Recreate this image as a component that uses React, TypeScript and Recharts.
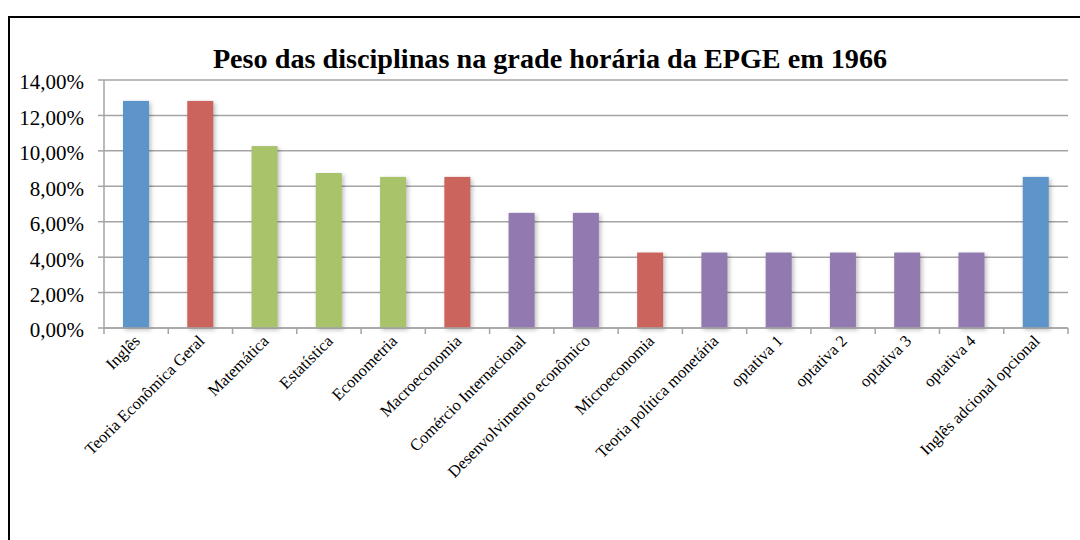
import { BarChart, Bar, XAxis, YAxis, CartesianGrid, Cell } from "recharts";

const disciplinas = [
  "Inglês",
  "Teoria Econômica Geral",
  "Matemática",
  "Estatística",
  "Econometria",
  "Macroeconomia",
  "Comércio Internacional",
  "Desenvolvimento econômico",
  "Microeconomia",
  "Teoria política monetária",
  "optativa 1",
  "optativa 2",
  "optativa 3",
  "optativa 4",
  "Inglês adcional opcional",
];
const pesos = [
  0.1282, 0.1282, 0.1027, 0.0875, 0.0853, 0.0853, 0.065, 0.065, 0.0426,
  0.0426, 0.0426, 0.0426, 0.0426, 0.0426, 0.0853,
];
const cores = [
  "#5d94c9", "#cc645e", "#a9c36a", "#a9c36a", "#a9c36a", "#cc645e", "#9279b0",
  "#9279b0", "#cc645e", "#9279b0", "#9279b0", "#9279b0", "#9279b0", "#9279b0",
  "#5d94c9",
];
const yTicks = [0, 0.02, 0.04, 0.06, 0.08, 0.1, 0.12, 0.14];

const data = disciplinas.map((nome, i) => ({ nome, peso: pesos[i] }));

const SERIF = "'Liberation Serif', 'DejaVu Serif', serif";
const GRID = "#a4a4a4";
const BAND = 964 / disciplinas.length;

const fmt = (v: number) => (v * 100).toFixed(2).replace(".", ",") + "%";

function XTick(props: any) {
  const { x, y, payload, index } = props;
  const last = index === disciplinas.length - 1;
  return (
    <g>
      <line x1={x - BAND / 2} x2={x - BAND / 2} y1={y - 8} y2={y - 2} stroke={GRID} strokeWidth={1.5} />
      {last && (
        <line x1={x + BAND / 2} x2={x + BAND / 2} y1={y - 8} y2={y - 2} stroke={GRID} strokeWidth={1.5} />
      )}
      <text
        x={x + 5}
        y={y + 6}
        transform={`rotate(-45, ${x + 5}, ${y + 6})`}
        textAnchor="end"
        fontFamily={SERIF}
        fontSize={16.5}
        fill="#000"
      >
        {payload.value}
      </text>
    </g>
  );
}

function BarShape(props: any) {
  const { x, y, width, height, fill } = props;
  return (
    <rect
      x={x}
      y={y}
      width={width}
      height={height}
      fill={fill}
      style={{ filter: "drop-shadow(2px 2px 2px rgba(0,0,0,0.25))" }}
    />
  );
}

export default function App() {
  return (
    <div
      style={{
        position: "absolute",
        left: 0,
        top: 0,
        width: 1080,
        height: 540,
        overflow: "hidden",
        background: "#fff",
      }}
    >
      <div
        style={{
          position: "absolute",
          left: 8,
          top: 16,
          width: 1100,
          height: 600,
          border: "2px solid #000",
        }}
      />
      <div
        style={{
          position: "absolute",
          left: 0,
          top: 43,
          width: 1100,
          textAlign: "center",
          fontFamily: SERIF,
          fontWeight: "bold",
          fontSize: 28.2,
          color: "#000",
        }}
      >
        Peso das disciplinas na grade horária da EPGE em 1966
      </div>
      <div style={{ position: "absolute", left: 0, top: 0 }}>
        <BarChart
          width={1080}
          height={540}
          data={data}
          margin={{ top: 80, right: 12, bottom: 0, left: 0 }}
          barCategoryGap="30%"
        >
          <CartesianGrid vertical={false} stroke={GRID} strokeWidth={1.5} />
          <XAxis
            dataKey="nome"
            interval={0}
            height={212}
            stroke={GRID}
            strokeWidth={1.5}
            tickLine={false}
            tick={<XTick />}
          />
          <YAxis
            width={104}
            domain={[0, 0.14]}
            ticks={yTicks}
            tickFormatter={fmt}
            stroke={GRID}
            strokeWidth={1.5}
            tickSize={6}
            tick={{ fill: "#000", fontFamily: SERIF, fontSize: 21, dx: -12, dy: 2 }}
            interval={0}
          />
          <Bar dataKey="peso" barSize={26} isAnimationActive={false} shape={<BarShape />}>
            {data.map((_, i) => (
              <Cell key={i} fill={cores[i]} />
            ))}
          </Bar>
        </BarChart>
      </div>
    </div>
  );
}
